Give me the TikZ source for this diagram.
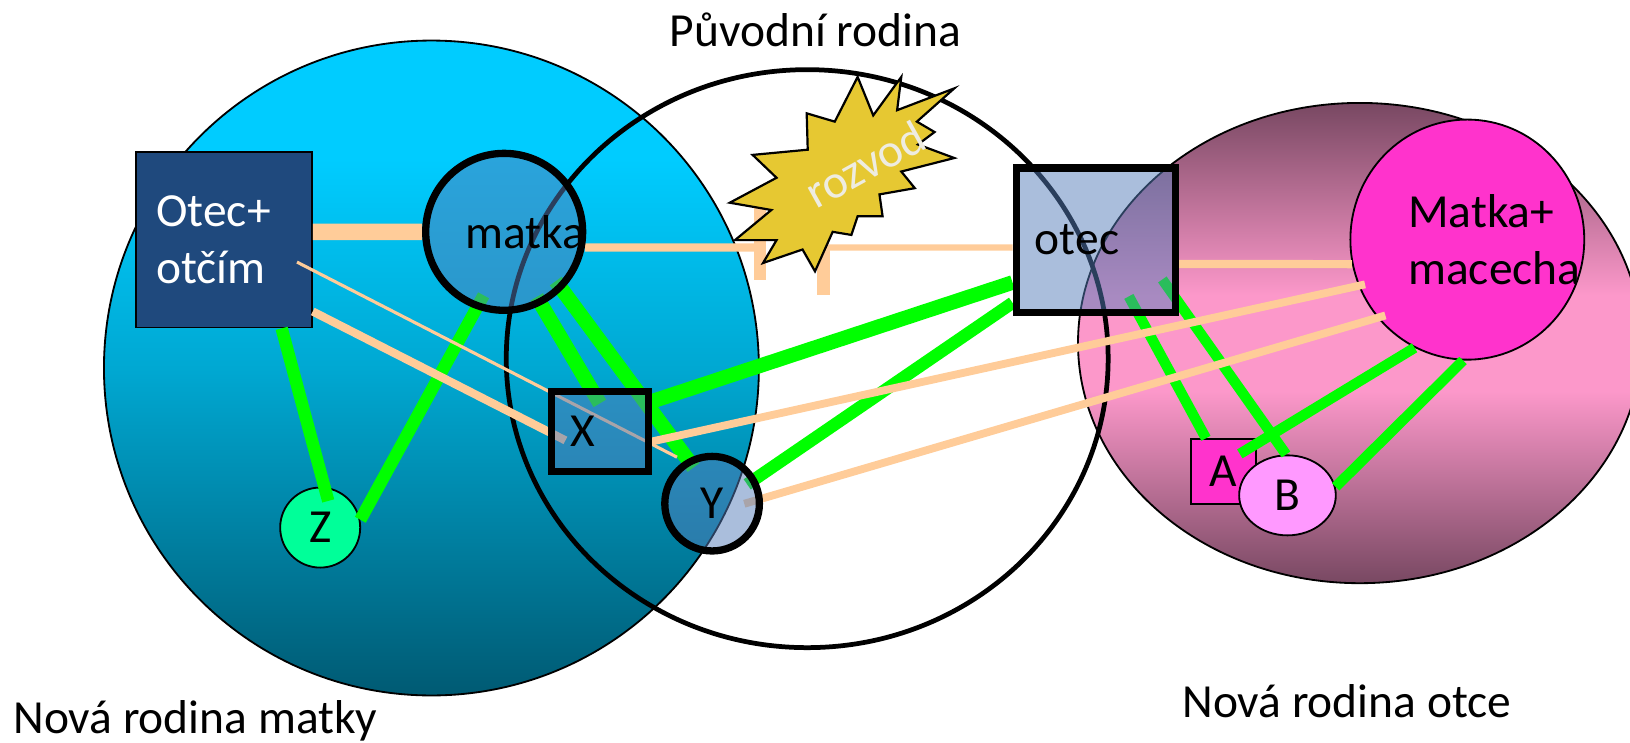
\documentclass[tikz,border=0pt]{standalone}
\usepackage{fontspec}
\setmainfont{Carlito}
\usetikzlibrary{shapes.geometric}
\pgfdeclarelayer{bg}
\pgfdeclarelayer{links}
\pgfsetlayers{bg,links,main}

\definecolor{skytop}{RGB}{0,204,255}
\definecolor{skymid}{RGB}{0,168,210}
\definecolor{skybot}{RGB}{0,90,115}
\definecolor{mauve}{RGB}{120,72,98}
\definecolor{rosemid}{RGB}{252,152,202}
\definecolor{stepblue}{RGB}{31,73,125}
\definecolor{halfblue}{RGB}{85,125,185}
\definecolor{zgreen}{RGB}{0,255,153}
\definecolor{newpink}{RGB}{255,51,204}
\definecolor{lightpink}{RGB}{255,153,255}
\definecolor{bondgreen}{RGB}{0,255,0}
\definecolor{tiepeach}{RGB}{255,204,153}
\definecolor{burstyellow}{RGB}{230,200,50}
\definecolor{burstlabel}{RGB}{238,236,225}

\pgfdeclareverticalshading{skyfam}{100bp}{color(0bp)=(skybot); color(25bp)=(skybot); color(50bp)=(skymid); color(66bp)=(skytop); color(75bp)=(skytop); color(100bp)=(skytop)}
\pgfdeclareverticalshading{rosefam}{100bp}{color(0bp)=(mauve); color(25bp)=(mauve); color(45bp)=(rosemid); color(55bp)=(rosemid); color(75bp)=(mauve); color(100bp)=(mauve)}

\begin{document}
\begin{tikzpicture}[x=0.02cm, y=-0.02cm,
    every node/.style={font=\fontsize{26}{31}\selectfont},
    famlabel/.style={anchor=base west, inner sep=0pt},
    solidbox/.style={draw, line width=1pt},
    halfbox/.style={draw, line width=4pt, fill=halfblue, fill opacity=0.5, draw opacity=1, text opacity=1, inner sep=0pt},
    bond/.style={draw=bondgreen, line width=6.8pt},
    bondwide/.style={draw=bondgreen, line width=8pt},
    bondslim/.style={draw=bondgreen, line width=5.7pt},
    tie/.style={draw=tiepeach, line width=4.3pt},
    tiestub/.style={draw=tiepeach, line width=6.8pt},
    burst/.style={draw, line width=1.2pt, fill=burstyellow}]
    \useasboundingbox (0,0) rectangle (1568,714);

    \begin{pgfonlayer}{bg}
    \shadedraw[shading=skyfam, line width=1pt] (415,354) ellipse [x radius=315, y radius=315];
    \shadedraw[shading=rosefam, line width=1pt] (1308,330) ellipse [x radius=271, y radius=231];
    \draw[line width=2.6pt] (776.5,345) ellipse [x radius=289.5, y radius=278];

    \node[solidbox, rectangle, fill=stepblue, text=white, text width=2.6cm, align=left, minimum width=3.38cm, minimum height=3.38cm] (stepdad) at (215.5,230.5) {Otec+\\otčím};
    \node[solidbox, circle, fill=zgreen, minimum size=1.54cm, inner sep=0pt] (Z) at (308,507.5) {Z};
    \node[solidbox, rectangle, fill=newpink, minimum size=1.24cm, inner sep=0pt] (A) at (1177,453.5) {A};
    \node[solidbox, ellipse, fill=lightpink, minimum width=1.86cm, minimum height=1.54cm, inner sep=0pt] (B) at (1238.5,476.5) {B};
    \node[solidbox, ellipse, fill=newpink, minimum width=4.5cm, minimum height=4.62cm] (stepmom) at (1411.5,230.5) {};
    \node[align=left] (stepmomlbl) at ([xshift=0.52cm]stepmom.center) {Matka+\\macecha};
    \end{pgfonlayer}

    \node[halfbox, circle, minimum size=3.02cm] (matka) at (485,223) {};
    \node[halfbox, rectangle, minimum width=3.06cm, minimum height=2.78cm] (otec) at (1054,231) {};
    \node[halfbox, rectangle, minimum width=1.86cm, minimum height=1.54cm] (X) at (577,415) {};
    \node[halfbox, circle, minimum size=1.82cm] (Y) at (685,484.5) {Y};
    \node (matkalbl) at ([xshift=0.4cm]matka.center) {matka};
    \node (oteclbl) at ([xshift=-0.36cm]otec.center) {otec};
    \node (Xlbl) at ([xshift=-0.32cm]X.center) {X};

    \coordinate (brkL) at (731,238);
    \coordinate (brkR) at (792,238);

    \begin{pgfonlayer}{links}
    \draw[bond, shorten >=-0.28cm] (stepdad.-57.5) -- (Z.84);
    \draw[bond, shorten >=-0.3cm] (Z.11) -- (matka.-110);
    \draw[bondwide, shorten <=-0.18cm, shorten >=-0.35cm] (matka.-63) -- (X.102);
    \draw[bondwide, shorten <=-0.21cm, shorten >=-0.2cm] (matka.-45.6) -- (Y.119.4);
    \draw[bondwide] (X.30) -- (otec.-153.4);
    \draw[bond, shorten <=-0.21cm] (Y.30.4) -- (otec.-143.6);
    \draw[bondslim, shorten <=-0.43cm] (otec.-60.4) -- (A.118);
    \draw[bondslim, shorten <=-0.55cm] (otec.-37.1) -- (B.92);
    \draw[bondslim, shorten >=-0.38cm] (stepmom.-116) -- (A.40.5);
    \draw[bondslim] (stepmom.-92) -- (B.10);

    \draw[tie, line width=9.1pt] (stepdad.5) -- (matka.west);
    \draw[tie, line width=4.5pt] (matka.-11) -- (brkL);
    \draw[tiestub] (brkL) ++(0,-38) -- ++(0,69);
    \draw[tie, line width=3.4pt] (brkR) -- (otec.185);
    \draw[tiestub] (brkR) -- ++(0,46);
    \draw[tie, line width=4.5pt] (otec.-16) -- (stepmom.192);
    \draw[tie, line width=4.5pt, shorten >=-0.38cm] (stepdad.-39.4) -- (X.west);
    \draw[tie, line width=1.7pt, shorten <=-0.34cm, shorten >=0.16cm] (stepdad.-19.5) -- (Y.123);
    \draw[tie, shorten >=-0.13cm] (X.-11.3) -- (stepmom.-157.1);
    \draw[tie, shorten <=-0.37cm, shorten >=-0.16cm] (Y.6) -- (stepmom.-139.8);
    \end{pgfonlayer}

    \draw[burst] (825,74) -- (840,111) -- (867,74) -- (863,106) -- (918,85) -- (882,117) -- (899,127) -- (883,139) -- (918,152) -- (867,165) -- (880,181) -- (846,187) -- (849,208) -- (825,208) -- (819,226) -- (801,223) -- (784,261) -- (772,240) -- (734,253) -- (747,231) -- (707,231) -- (742,202) -- (702,195) -- (747,171) -- (724,149) -- (777,144) -- (776,109) -- (803,117) -- cycle;
    \node[text=burstlabel, rotate=29] (rozvod) at (832,158) {rozvod};

    \node[famlabel] (origfam) at (644,45) {Původní rodina};
    \node[famlabel] (matkyfam) at (12.5,706) {Nová rodina matky};
    \node[famlabel] (otcefam) at (1137,690) {Nová rodina otce};
\end{tikzpicture}
\end{document}
